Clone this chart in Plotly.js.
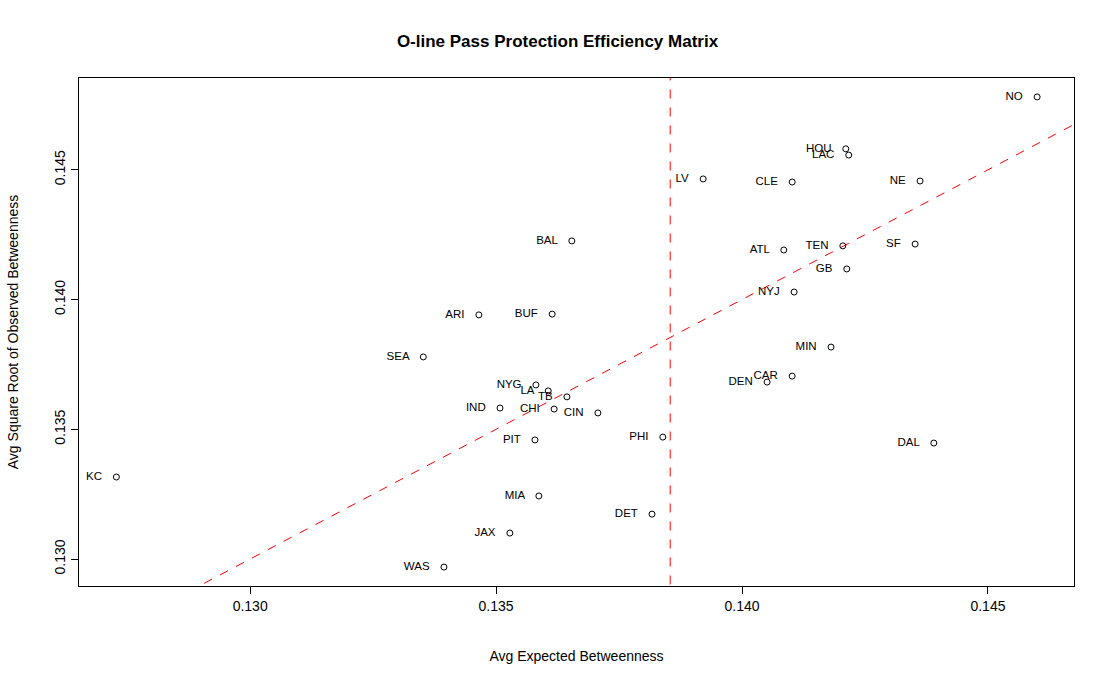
<!DOCTYPE html>
<html>
<head>
<meta charset="utf-8">
<script src="https://cdn.plot.ly/plotly-3.0.1.min.js"></script>
<style>body{margin:0;background:#fff}</style>
</head>
<body>
<div id="chart" style="width:1115px;height:684px"></div>
<script>
var teams = ['NO','HOU','LAC','LV','CLE','NE','BAL','ATL','TEN','SF','GB','NYJ','ARI','BUF','MIN','SEA',
  'NYG','LA','TB','CAR','DEN','IND','CHI','CIN','PHI','PIT','DAL','KC','MIA','DET','JAX','WAS'];
var expected = [0.14600,0.14211,0.14217,0.13921,0.14102,0.14362,0.13654,0.14085,0.14205,0.14352,0.14213,0.14106,
  0.13465,0.13614,0.14181,0.13352,0.13581,0.13606,0.13644,0.14102,0.14051,0.13508,0.13618,0.13707,
  0.13839,0.13579,0.14390,0.12728,0.13587,0.13817,0.13528,0.13394];
var observed = [0.14781,0.14581,0.14557,0.14465,0.14453,0.14457,0.14226,0.14191,0.14207,0.14214,0.14118,0.14029,
  0.13941,0.13944,0.13817,0.13779,0.13671,0.13648,0.13625,0.13705,0.13682,0.13582,0.13578,0.13563,
  0.13470,0.13459,0.13447,0.13316,0.13243,0.13173,0.13100,0.12969];
var meanX = 0.13854;

var pts = {
  x: expected, y: observed, text: teams.map(function (t) { return t + '   '; }),
  mode: 'markers+text', type: 'scatter', textposition: 'middle left',
  textfont: {size: 11.5, color: '#000'},
  marker: {symbol: 'circle-open', size: 6, color: '#000', line: {width: 1}},
  hoverinfo: 'text+x+y'
};
var diag = {
  x: [0.12, 0.15], y: [0.12, 0.15], mode: 'lines', type: 'scatter',
  line: {color: 'red', dash: 'dash', width: 1}, hoverinfo: 'skip'
};
var vline = {
  x: [meanX, meanX], y: [0.12, 0.15], mode: 'lines', type: 'scatter',
  line: {color: 'red', dash: 'dash', width: 1}, hoverinfo: 'skip'
};

var layout = {
  width: 1115, height: 684, showlegend: false,
  font: {family: 'Liberation Sans, Arial, sans-serif', size: 14, color: '#000'},
  title: {text: '<b>O-line Pass Protection Efficiency Matrix</b>', font: {size: 17}, x: 0.5, y: 0.94, yanchor: 'middle'},
  margin: {l: 79, r: 41, t: 78, b: 98},
  plot_bgcolor: '#fff', paper_bgcolor: '#fff',
  xaxis: {range: [0.12652, 0.14675], tickvals: [0.130, 0.135, 0.140, 0.145], tickformat: '.3f',
    showgrid: false, zeroline: false, showline: true, mirror: true, linecolor: '#000', linewidth: 1,
    ticks: 'outside', ticklen: 7, tickcolor: '#000', tickfont: {size: 14},
    title: {text: 'Avg Expected Betweenness', font: {size: 14}, standoff: 38}},
  yaxis: {range: [0.12896, 0.14854], tickvals: [0.130, 0.135, 0.140, 0.145], tickformat: '.3f', tickangle: -90,
    showgrid: false, zeroline: false, showline: true, mirror: true, linecolor: '#000', linewidth: 1,
    ticks: 'outside', ticklen: 7, tickcolor: '#000', tickfont: {size: 14},
    title: {text: 'Avg Square Root of Observed Betweenness', font: {size: 14}, standoff: 30}}
};
Plotly.newPlot('chart', [diag, vline, pts], layout, {displayModeBar: false});
</script>
</body>
</html>
